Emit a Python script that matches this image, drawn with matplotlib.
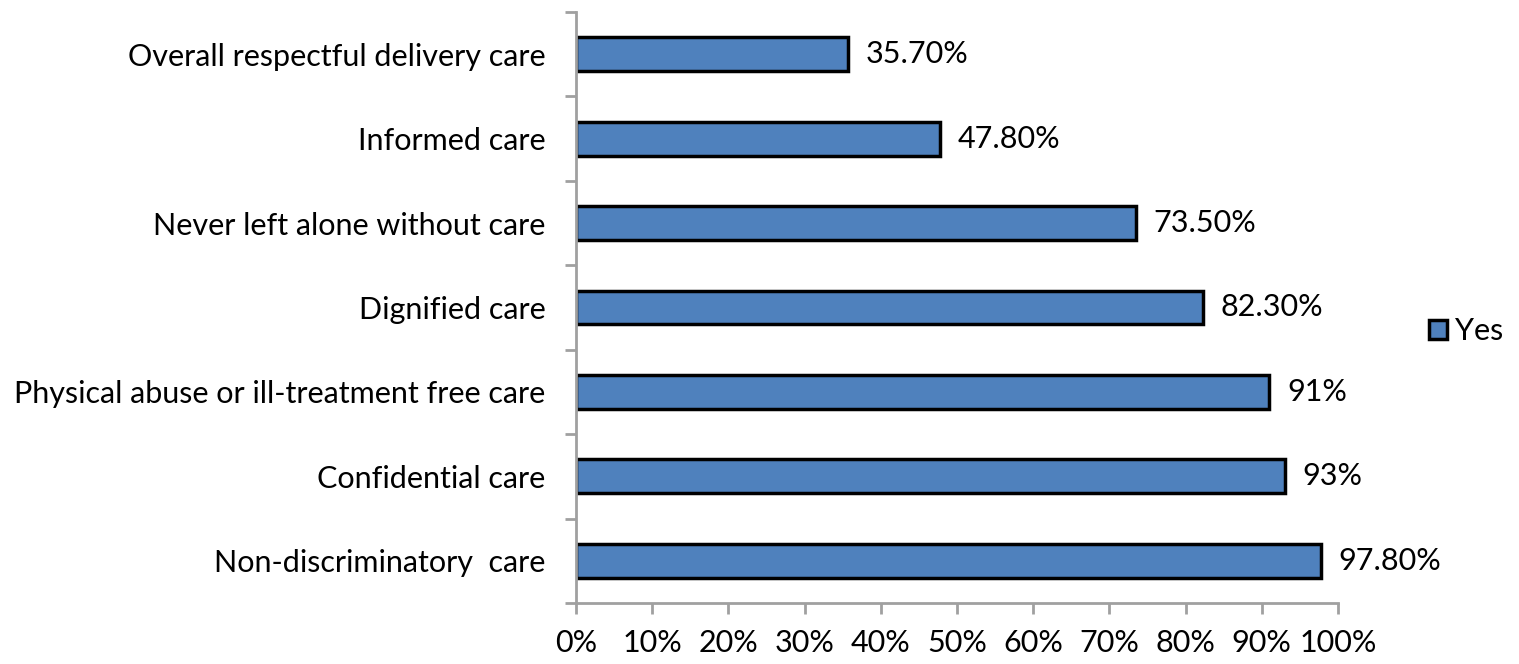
import matplotlib.pyplot as plt
from matplotlib.ticker import FixedLocator, PercentFormatter

categories = ['Non-discriminatory  care', 'Confidential care',
              'Physical abuse or ill-treatment free care', 'Dignified care',
              'Never left alone without care', 'Informed care',
              'Overall respectful delivery care']
values = [97.8, 93, 91, 82.3, 73.5, 47.8, 35.7]
value_labels = ['97.80%', '93%', '91%', '82.30%', '73.50%', '47.80%', '35.70%']
x_ticks = [0, 10, 20, 30, 40, 50, 60, 70, 80, 90, 100]

plt.rcParams['font.family'] = ['Lato', 'DejaVu Sans']

fig = plt.figure(figsize=(15.19, 6.64), dpi=100)
ax = fig.add_axes([576 / 1519, 61 / 664, 762 / 1519, 591 / 664])

bars = ax.barh(range(len(categories)), values, height=0.4, color='#4f81bd',
               edgecolor='black', linewidth=2.5, label='Yes')
for bar, lab in zip(bars, value_labels):
    ax.text(bar.get_width() + 2.3, bar.get_y() + bar.get_height() / 2, lab,
            va='center', ha='left', fontsize=22)

ax.set_xlim(0, 100)
ax.set_ylim(-0.5, len(categories) - 0.5)
ax.set_xticks(x_ticks)
ax.xaxis.set_major_formatter(PercentFormatter(decimals=0))
ax.set_yticks(range(len(categories)))
ax.set_yticklabels(categories)
ax.yaxis.set_minor_locator(FixedLocator([i - 0.5 for i in range(len(categories) + 1)]))
ax.tick_params(axis='y', which='major', length=0, pad=22, labelsize=22)
ax.tick_params(axis='y', which='minor', length=8, width=2, color='#a0a0a0')
ax.tick_params(axis='x', length=8, width=2, color='#a0a0a0', labelsize=22, pad=11)

for side in ['top', 'right']:
    ax.spines[side].set_visible(False)
for side in ['left', 'bottom']:
    ax.spines[side].set_color('#a0a0a0')
    ax.spines[side].set_linewidth(2)

ax.legend(loc='center left', bbox_to_anchor=(1.083, 0.46), frameon=False,
          fontsize=22, handlelength=0.6, handleheight=0.6, handletextpad=0.25)

fig.savefig('out.png', dpi=100)
